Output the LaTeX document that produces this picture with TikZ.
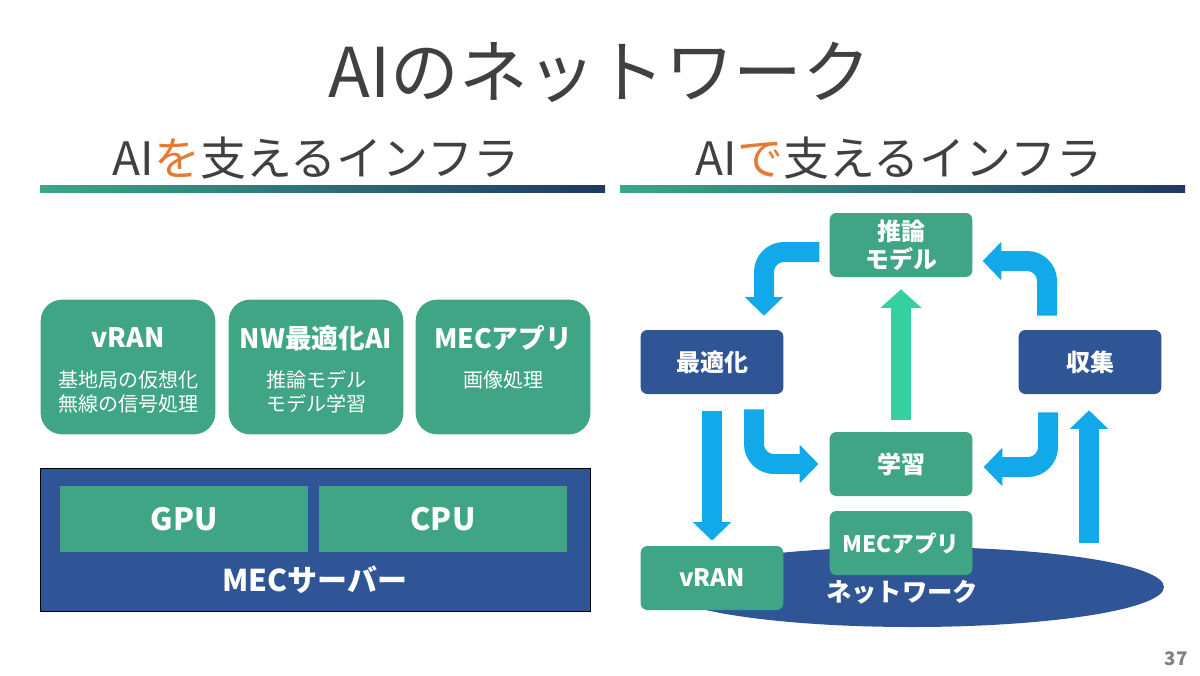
\documentclass[tikz,border=0pt]{standalone}
\usepackage{fontspec}
\setmainfont{Noto Sans CJK JP}
\usetikzlibrary{arrows.meta,calc,shapes.geometric}
\definecolor{boxgreen}{HTML}{40A584}
\definecolor{navy}{HTML}{2F5597}
\definecolor{flowblue}{HTML}{12A9EA}
\definecolor{mint}{HTML}{35CFA0}
\definecolor{headgray}{HTML}{404040}
\definecolor{accent}{HTML}{E57A35}
\definecolor{ruleteal}{HTML}{3BA68A}
\definecolor{rulenavy}{HTML}{1F3864}
\tikzset{
  appbox/.style={fill=boxgreen, rounded corners=16pt, minimum width=131pt, minimum height=101pt},
  apphead/.style={text=white, inner sep=0pt, font=\bfseries\fontsize{20}{24}\selectfont},
  appsub/.style={text=white, align=center, inner sep=0pt, font=\fontsize{15}{18}\selectfont},
  unit/.style={fill=boxgreen, minimum width=186pt, minimum height=49.5pt, text=white, font=\bfseries\fontsize{23}{27}\selectfont},
  stage/.style={fill=#1, rounded corners=5pt, minimum width=107pt, minimum height=48pt, inner sep=0pt,
    text=white, align=center, font=\bfseries\fontsize{18}{21}\selectfont},
  flow/.style={draw=flowblue, line width=15pt, rounded corners=15pt, -{Triangle[width=28pt,length=14pt]}},
}
\begin{document}
\begin{tikzpicture}[x=0.75pt, y=-0.75pt]
  \useasboundingbox (0,0) rectangle (1200,675);
  \fill[white] (0,0) rectangle (1200,675);

  % headings
  \node[text=headgray, font=\fontsize{51.5}{56}\selectfont] (title) at (600,72) {AIのネットワーク};
  \node[text=headgray, font=\fontsize{34.5}{40}\selectfont] (subleft) at (316,158) {AI\textcolor{accent}{を}支えるインフラ};
  \node[text=headgray, font=\fontsize{34.5}{40}\selectfont] (subright) at (899,158) {AI\textcolor{accent}{で}支えるインフラ};
  \shade[left color=ruleteal, right color=rulenavy] (40,185) rectangle (605,192);
  \shade[left color=ruleteal, right color=rulenavy] (620,185) rectangle (1185,192);

  % left: infrastructure for AI
  \foreach \cx/\nm/\head in {128/vran/vRAN, 316/nwai/NW最適化AI, 503/mecapp/MECアプリ}
  {
      \node[appbox] (\nm) at (\cx,367) {};
      \node[apphead] (\nm head) at (\cx,338) {\head};
  }
  \node[appsub] (vransub) at (128,392) {基地局の仮想化\\無線の信号処理};
  \node[appsub] (nwaisub) at (316,392) {推論モデル\\モデル学習};
  \node[appsub] (mecappsub) at (503,380) {画像処理};

  \node[draw=black, fill=navy, minimum width=412.5pt, minimum height=107pt] (server) at (315,539.5) {};
  \node[unit] (gpu) at (184,519) {GPU};
  \node[unit] (cpu) at (443,519) {CPU};
  \node[text=white, font=\bfseries\fontsize{22.5}{26}\selectfont] (serverlabel) at (315,580) {MECサーバー};

  % right: infrastructure by AI
  \node[ellipse, fill=navy, minimum width=378pt, minimum height=60pt] (net) at (912,587) {};
  \node[text=white, font=\bfseries\fontsize{19}{22}\selectfont] (netlabel) at (902,592) {ネットワーク};
  \node[stage=boxgreen] (infer) at (901,245) {推論\\モデル};
  \node[stage=navy] (opt) at (712,362) {最適化};
  \node[stage=navy] (collect) at (1090,362) {収集};
  \node[stage=boxgreen] (learn) at (901,464) {学習};
  \node[stage=boxgreen, font=\bfseries\fontsize{17}{20}\selectfont] (mecnode) at (901,543) {MECアプリ};
  \node[stage=boxgreen] (ran) at (712,578) {vRAN};
  \coordinate (netR) at (1089,543);

  \draw[flow] ($(infer.west)+(-10,7)$) -| ($(opt.north)+(52,-14)$);
  \draw[flow] ($(collect.north)+(-43,-14)$) |- ($(infer.east)+(10,16)$);
  \draw[flow] ($(opt.south)+(42,15)$) |- ($(learn.west)+(-11,0)$);
  \draw[flow] ($(collect.south)+(-42,18)$) |- ($(learn.east)+(11,3)$);
  \draw[flow] ($(opt.south)+(0,17)$) -- ($(ran.north)+(0,-5)$);
  \draw[flow] (netR) -- ($(collect.south)+(-1,16)$);
  \draw[flow, draw=mint, -{Triangle[width=30pt,length=14pt]}] ($(learn.north)+(0,-12)$) -- ($(infer.south)+(0,12)$);

  \node[text=gray, font=\bfseries\fontsize{14}{16}\selectfont] (pageno) at (1176,659) {37};
\end{tikzpicture}
\end{document}
